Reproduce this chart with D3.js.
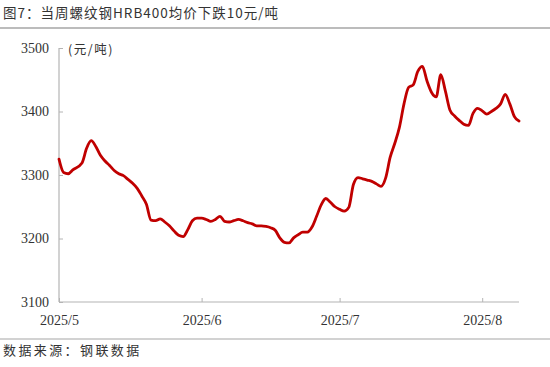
<!DOCTYPE html>
<html><head><meta charset="utf-8">
<script src="https://cdn.jsdelivr.net/npm/d3@7"></script>
<style>body{margin:0;background:#fff}svg{display:block}</style>
</head><body>
<svg id="c" width="550" height="367"></svg>
<script>
const title = "图7：当周螺纹钢HRB400均价下跌10元/吨";
const source = "数据来源：钢联数据";
const unit = "(元/吨)";
const yTicks = [3100, 3200, 3300, 3400, 3500];
const xTickDates = ["2025-05-01", "2025-06-01", "2025-07-01", "2025-08-01"];
const xTickLabels = ["2025/5", "2025/6", "2025/7", "2025/8"];
const dates = [
"2025-05-01","2025-05-02","2025-05-03","2025-05-04","2025-05-06","2025-05-07","2025-05-08","2025-05-09","2025-05-10",
"2025-05-11","2025-05-12","2025-05-13","2025-05-14","2025-05-15","2025-05-16","2025-05-17","2025-05-18","2025-05-19",
"2025-05-20","2025-05-21","2025-05-22","2025-05-23","2025-05-24","2025-05-25","2025-05-26","2025-05-27","2025-05-28",
"2025-05-29","2025-05-30","2025-05-31","2025-06-01","2025-06-02","2025-06-03","2025-06-04","2025-06-05","2025-06-06",
"2025-06-07","2025-06-08","2025-06-09","2025-06-10","2025-06-11","2025-06-12","2025-06-13","2025-06-14","2025-06-15",
"2025-06-16","2025-06-17","2025-06-18","2025-06-19","2025-06-20","2025-06-21","2025-06-22","2025-06-23","2025-06-24",
"2025-06-25","2025-06-26","2025-06-27","2025-06-28","2025-06-29","2025-06-30","2025-07-01","2025-07-02","2025-07-03",
"2025-07-04","2025-07-05","2025-07-06","2025-07-07","2025-07-08","2025-07-09","2025-07-10","2025-07-11","2025-07-12",
"2025-07-13","2025-07-14","2025-07-15","2025-07-16","2025-07-17","2025-07-18","2025-07-19","2025-07-20","2025-07-21",
"2025-07-22","2025-07-23","2025-07-24","2025-07-25","2025-07-26","2025-07-27","2025-07-28","2025-07-29","2025-07-30",
"2025-07-31","2025-08-01","2025-08-02","2025-08-03","2025-08-04","2025-08-05","2025-08-06","2025-08-07","2025-08-08",
"2025-08-09"];
const prices = [
3325,3304,3302,3308,3319,3342,3354,3345,3331,
3322,3315,3307,3302,3299,3293,3287,3279,3267,
3254,3229,3228,3231,3226,3220,3212,3205,3203,
3214,3228,3232,3232,3230,3227,3230,3235,3227,
3226,3228,3230,3228,3225,3223,3220,3220,3219,
3217,3213,3201,3194,3193,3201,3206,3210,3210,
3218,3235,3253,3263,3257,3250,3246,3243,3249,
3285,3296,3294,3292,3290,3286,3282,3295,3328,
3350,3375,3412,3438,3442,3463,3471,3448,3430,
3423,3458,3432,3402,3393,3386,3380,3378,3397,
3405,3401,3396,3400,3405,3412,3427,3412,3392,
3385];

const svg = d3.select("#c");
const parse = d3.timeParse("%Y-%m-%d");
const data = dates.map((d, i) => ({date: parse(d), v: prices[i]}));

const x = d3.scaleTime().domain([parse("2025-05-01"), parse("2025-08-09")]).range([59, 519]);
const y = d3.scaleLinear().domain([3100, 3500]).range([302, 48]);

// title
svg.append("text").attr("x", 3).attr("y", 18).text(title)
  .attr("font-family", "Noto Sans CJK SC").attr("font-size", 13.5).attr("letter-spacing", 1)
  .attr("fill", "#333");
svg.append("line").attr("x1", 0).attr("x2", 550).attr("y1", 28).attr("y2", 28)
  .attr("stroke", "#a6a6a6").attr("stroke-width", 1.5);

// axes
const yAxis = d3.axisLeft(y).tickValues(yTicks).tickSize(-4).tickPadding(10).tickFormat(d3.format("d"));
const gy = svg.append("g").attr("transform", "translate(59,0)").call(yAxis);
const xAxis = d3.axisBottom(x).tickValues(xTickDates.map(parse)).tickSize(-4).tickPadding(10)
  .tickFormat((d, i) => xTickLabels[i]);
const gx = svg.append("g").attr("transform", "translate(0,302)").call(xAxis);
[gx, gy].forEach(g => {
  g.select(".domain").attr("stroke", "#b4b4b4").attr("stroke-width", 1.2);
  g.selectAll(".tick line").attr("stroke", "#b4b4b4").attr("stroke-width", 1);
  g.selectAll("text").attr("font-family", "Liberation Serif").attr("font-size", 14).attr("fill", "#333");
});
gx.select(".domain").attr("d", "M59,0H519");
gy.select(".domain").attr("d", "M0,302V48");
gx.selectAll(".tick text").attr("dy", "0.9em");

svg.append("text").attr("x", 68).attr("y", 54).text(unit)
  .attr("font-family", "Noto Sans CJK SC").attr("font-size", 12.5).attr("letter-spacing", 1.5).attr("fill", "#333");

// line
const line = d3.line().x(d => x(d.date)).y(d => y(d.v)).curve(d3.curveMonotoneX);
svg.append("path").datum(data).attr("d", line).attr("fill", "none")
  .attr("stroke", "#c00000").attr("stroke-width", 2.8).attr("stroke-linejoin", "round").attr("stroke-linecap", "round");

// source
svg.append("line").attr("x1", 0).attr("x2", 550).attr("y1", 339).attr("y2", 339)
  .attr("stroke", "#a6a6a6").attr("stroke-width", 1.2);
svg.append("text").attr("x", 3).attr("y", 355).text(source)
  .attr("font-family", "Noto Sans CJK SC").attr("font-size", 13).attr("letter-spacing", 2.4).attr("fill", "#333");
</script>
</body></html>
